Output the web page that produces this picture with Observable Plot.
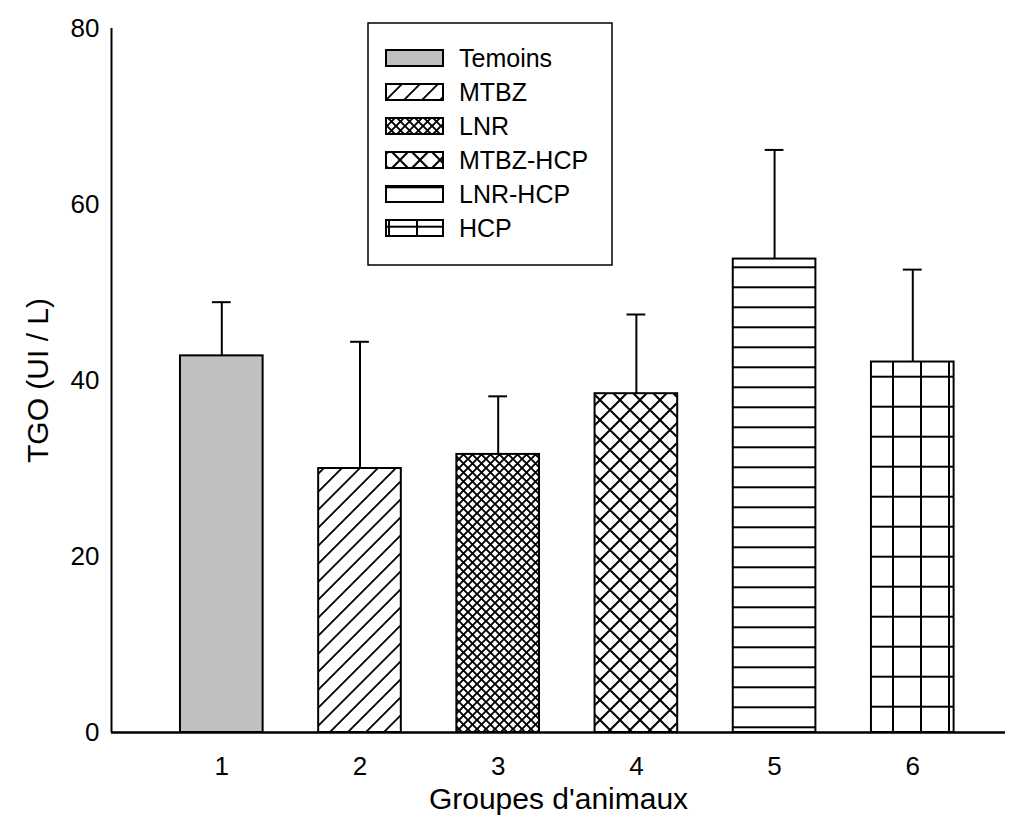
<!DOCTYPE html>
<html><head><meta charset="utf-8">
<script src="https://cdn.jsdelivr.net/npm/d3@7"></script>
<script src="https://cdn.jsdelivr.net/npm/@observablehq/plot@0.6"></script>
<style>
body{margin:0;background:#fff;font-family:"Liberation Sans",Arial,sans-serif;}
#wrap{position:relative;width:1017px;height:839px;}
</style></head><body><div id="wrap"></div>
<script>
const groups = [1, 2, 3, 4, 5, 6];
const names = ["Temoins", "MTBZ", "LNR", "MTBZ-HCP", "LNR-HCP", "HCP"];
const means = [42.8, 30.0, 31.6, 38.5, 53.8, 42.1];
const sds = [6.1, 14.4, 6.6, 9.0, 12.4, 10.5];
const yTicks = [0, 20, 40, 60, 80];
const xLabel = "Groupes d'animaux";
const yLabel = "TGO (UI / L)";

const fills = ["#c0c0c0", "url(#p-mtbz)", "url(#p-lnr)", "url(#p-mtbzhcp)", "url(#p-lnrhcp)", "url(#p-hcp)"];
const data = groups.map((g, i) => ({group: g, name: names[i], mean: means[i], sd: sds[i], top: means[i] + sds[i]}));
const half = 0.299;
const cap = 0.068;
const font = "Liberation Sans, Arial, sans-serif";

const chart = Plot.plot({
  width: 1017, height: 839,
  marginLeft: 111, marginRight: 12, marginTop: 28, marginBottom: 107,
  style: {fontFamily: font, background: "#fff", overflow: "visible"},
  x: {type: "linear", domain: [0.2019, 6.671]},
  y: {domain: [0, 80]},
  color: {type: "ordinal", domain: names, range: fills},
  marks: [
    Plot.ruleX([0.2019], {stroke: "#000", strokeWidth: 2}),
    Plot.ruleY([0], {stroke: "#000", strokeWidth: 2.5}),
    Plot.ruleX(data, {x: "group", y1: "mean", y2: "top", stroke: "#000", strokeWidth: 2}),
    Plot.ruleY(data, {x1: d => d.group - cap, x2: d => d.group + cap, y: "top", stroke: "#000", strokeWidth: 2}),
    Plot.rectY(data, {x1: d => d.group - half, x2: d => d.group + half, y1: 0, y2: "mean", fill: "name", stroke: "#000", strokeWidth: 2}),
    Plot.axisY({ticks: yTicks, tickSize: 0, tickPadding: 12, fontSize: 26, label: null}),
    Plot.axisX({ticks: groups, tickSize: 0, tickPadding: 24, fontSize: 26, label: null, tickFormat: d => String(d)}),
    Plot.text([yLabel], {frameAnchor: "left", dx: -73, rotate: -90, textAnchor: "middle", fontSize: 30, fill: "#000"}),
    Plot.text([xLabel], {frameAnchor: "bottom", dy: 76, textAnchor: "middle", fontSize: 30, fill: "#000"})
  ]
});

// pattern definitions
const svg = d3.select(chart);
const defs = svg.insert("defs", ":first-child");
function pat(id, w, h, x, y, paths, sw) {
  const p = defs.append("pattern").attr("id", id).attr("patternUnits", "userSpaceOnUse")
    .attr("width", w).attr("height", h).attr("x", x).attr("y", y);
  p.append("rect").attr("width", w).attr("height", h).attr("fill", "#fff");
  p.append("path").attr("d", paths).attr("stroke", "#000").attr("stroke-width", sw).attr("fill", "none");
}
pat("p-mtbz", 18, 18, 0, 0, "M-2,20 L20,-2 M-4.5,4.5 L4.5,-4.5 M13.5,22.5 L22.5,13.5", 1.8);
pat("p-lnr", 9, 9, 0, 0, "M-1,-1 L10,10 M10,-1 L-1,10", 1.9);
pat("p-mtbzhcp", 20, 20, 0, 0, "M-1,-1 L21,21 M21,-1 L-1,21", 2);
pat("p-lnrhcp", 10, 20, 0, 7.3, "M-1,0 L11,0 M-1,20 L11,20", 2);
pat("p-hcp", 28, 30, 25, 16.7, "M-1,0 L29,0 M-1,30 L29,30 M0,-1 L0,31 M28,-1 L28,31", 2);

document.getElementById("wrap").appendChild(chart);

// legend (drawn in the chart's own coordinates so patterns line up)
const L = {x: 368, y: 23, w: 244, h: 242};
const leg = svg.append("g").attr("font-family", font).attr("text-anchor", "start");
leg.append("rect").attr("x", L.x).attr("y", L.y).attr("width", L.w).attr("height", L.h)
  .attr("fill", "#fff").attr("stroke", "#000").attr("stroke-width", 1.5);
names.forEach((n, i) => {
  const cy = L.y + 35 + i * 34;
  leg.append("rect").attr("x", L.x + 18).attr("y", cy - 8).attr("width", 57).attr("height", 16)
    .attr("fill", fills[i]).attr("stroke", "#000").attr("stroke-width", 2);
  leg.append("text").attr("x", L.x + 91).attr("y", cy).attr("dy", "0.35em")
    .attr("text-anchor", "start").attr("font-size", 25).attr("fill", "#000").text(n);
});
</script></body></html>
